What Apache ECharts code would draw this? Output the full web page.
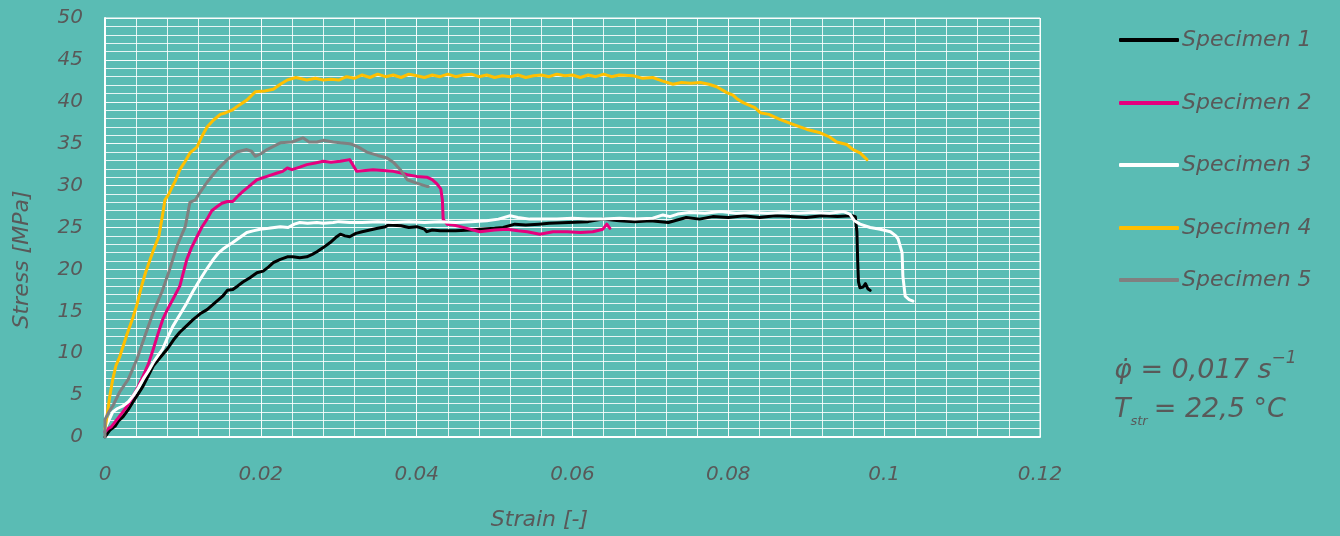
<!DOCTYPE html>
<html>
<head>
<meta charset="utf-8">
<script src="https://cdn.jsdelivr.net/npm/echarts@6/dist/echarts.min.js"></script>
<style>
html,body{margin:0;padding:0;background:#5abcb4;}
#chart{width:1340px;height:536px;}
</style>
</head>
<body>
<div id="chart"></div>
<script>
var seriesNames = ['Specimen 1','Specimen 2','Specimen 3','Specimen 4','Specimen 5'];
var xTicks = [0, 0.02, 0.04, 0.06, 0.08, 0.1, 0.12];
var yTicks = [0, 5, 10, 15, 20, 25, 30, 35, 40, 45, 50];

var spec1 = [[0,0],[0.0006,0.8],[0.0013,1.3],[0.0018,2.0],[0.0023,2.4],[0.003,3.3],[0.0036,4.2],[0.0043,5.2],[0.0049,6.1],[0.0056,7.4],[0.0062,8.5],[0.007,9.4],[0.008,10.5],[0.0088,11.6],[0.0096,12.5],[0.0105,13.3],[0.0113,14.0],[0.0122,14.7],[0.0131,15.2],[0.0141,16.0],[0.0151,16.8],[0.0157,17.5],[0.0164,17.6],[0.017,18.0],[0.0177,18.5],[0.0186,19.0],[0.0195,19.6],[0.0203,19.8],[0.021,20.3],[0.0216,20.8],[0.0225,21.2],[0.0234,21.5],[0.0241,21.5],[0.025,21.4],[0.0259,21.5],[0.0266,21.8],[0.0272,22.1],[0.028,22.6],[0.0289,23.2],[0.0296,23.8],[0.0302,24.2],[0.0308,24.0],[0.0314,23.9],[0.0322,24.3],[0.033,24.5],[0.034,24.7],[0.035,24.9],[0.036,25.1],[0.0364,25.3],[0.038,25.2],[0.039,25.0],[0.040,25.1],[0.041,24.8],[0.0413,24.5],[0.042,24.7],[0.043,24.6],[0.045,24.6],[0.047,24.7],[0.0481,24.8],[0.050,24.9],[0.0511,25.0],[0.0526,25.4],[0.054,25.3],[0.0557,25.4],[0.057,25.5],[0.0595,25.6],[0.062,25.7],[0.0639,26.0],[0.066,25.8],[0.068,25.7],[0.070,25.8],[0.0723,25.6],[0.0746,26.2],[0.0763,26.0],[0.078,26.3],[0.080,26.2],[0.082,26.4],[0.084,26.2],[0.086,26.4],[0.088,26.3],[0.090,26.2],[0.092,26.4],[0.094,26.3],[0.0959,26.4],[0.0963,26.3],[0.0965,24.5],[0.0966,21],[0.0967,18.5],[0.0969,17.8],[0.0973,17.9],[0.0976,18.3],[0.0979,17.7],[0.0982,17.5]];

var spec2 = [[0,0.6],[0.0004,1.0],[0.0008,1.2],[0.0013,1.8],[0.0018,2.4],[0.0023,3.0],[0.003,3.9],[0.0036,4.9],[0.0043,6.1],[0.0049,7.3],[0.0056,8.8],[0.0062,10.5],[0.0068,12.3],[0.0074,14.0],[0.008,15.2],[0.0087,16.4],[0.0096,18.0],[0.0105,21.2],[0.0111,22.6],[0.0118,23.9],[0.0124,25.0],[0.0131,26.0],[0.0137,27.0],[0.0144,27.5],[0.015,27.9],[0.0157,28.1],[0.0164,28.1],[0.017,28.7],[0.0177,29.3],[0.0186,30.0],[0.0195,30.7],[0.0208,31.1],[0.0221,31.5],[0.0228,31.7],[0.0234,32.1],[0.024,31.9],[0.025,32.2],[0.0259,32.5],[0.027,32.7],[0.028,32.9],[0.029,32.8],[0.0302,32.9],[0.0314,33.1],[0.0318,32.5],[0.0323,31.7],[0.0334,31.8],[0.0344,31.9],[0.0357,31.8],[0.037,31.7],[0.038,31.5],[0.0388,31.3],[0.040,31.1],[0.0413,31.0],[0.042,30.7],[0.0426,30.2],[0.0431,29.6],[0.0433,28.3],[0.0434,26.0],[0.0439,25.4],[0.0447,25.3],[0.0456,25.1],[0.0468,24.8],[0.0481,24.5],[0.050,24.7],[0.0516,24.8],[0.053,24.6],[0.0542,24.5],[0.0558,24.2],[0.0575,24.5],[0.0593,24.5],[0.061,24.4],[0.0626,24.5],[0.0639,24.8],[0.0644,25.4],[0.0648,24.9]];

var spec3 = [[0,1.0],[0.0004,1.8],[0.001,3.0],[0.0016,3.4],[0.0023,3.7],[0.003,4.2],[0.0036,4.9],[0.0043,5.9],[0.0049,6.9],[0.0056,7.9],[0.0062,8.9],[0.0068,9.7],[0.0074,10.5],[0.008,11.8],[0.0087,13.2],[0.0096,14.6],[0.0105,16.0],[0.0113,17.4],[0.0122,18.8],[0.0131,20.1],[0.0139,21.2],[0.0145,21.9],[0.0151,22.4],[0.0157,22.8],[0.0164,23.2],[0.0173,23.8],[0.0182,24.4],[0.019,24.6],[0.0199,24.8],[0.021,24.9],[0.0225,25.1],[0.0235,25.0],[0.0243,25.4],[0.025,25.6],[0.026,25.5],[0.0272,25.6],[0.028,25.5],[0.0293,25.6],[0.030,25.7],[0.0314,25.6],[0.033,25.6],[0.035,25.7],[0.037,25.6],[0.039,25.7],[0.041,25.6],[0.043,25.7],[0.045,25.6],[0.047,25.7],[0.049,25.8],[0.0505,26.0],[0.052,26.4],[0.053,26.2],[0.0545,26.0],[0.056,26.0],[0.058,26.0],[0.060,26.1],[0.062,26.0],[0.064,26.0],[0.066,26.1],[0.068,26.0],[0.0703,26.1],[0.0716,26.5],[0.0725,26.3],[0.0735,26.6],[0.075,26.8],[0.077,26.7],[0.079,26.9],[0.081,26.7],[0.083,26.8],[0.085,26.7],[0.087,26.8],[0.089,26.7],[0.091,26.8],[0.093,26.7],[0.0948,26.9],[0.0956,26.6],[0.0962,25.8],[0.0969,25.4],[0.0982,25.0],[0.0995,24.8],[0.1008,24.5],[0.1015,24.0],[0.1018,23.6],[0.1023,22.0],[0.1024,19.2],[0.1027,16.8],[0.1032,16.4],[0.1037,16.2]];

var spec4 = [[0,1.0],[0.0002,2.1],[0.0006,4.8],[0.001,6.9],[0.0014,8.5],[0.0019,9.6],[0.0028,12.2],[0.0036,14.3],[0.0041,15.8],[0.0047,18.0],[0.0052,19.6],[0.0058,21.2],[0.0063,22.5],[0.0069,23.9],[0.0073,26.0],[0.0077,28.3],[0.0082,29.0],[0.0086,29.8],[0.009,30.5],[0.0096,31.9],[0.0103,32.9],[0.0109,33.9],[0.0118,34.6],[0.0124,35.8],[0.0131,37.0],[0.0139,37.8],[0.0148,38.5],[0.0155,38.7],[0.0163,39.0],[0.0172,39.6],[0.0182,40.2],[0.0193,41.2],[0.0205,41.3],[0.0216,41.5],[0.0225,42.1],[0.0234,42.6],[0.0245,42.9],[0.0259,42.6],[0.027,42.8],[0.028,42.6],[0.029,42.7],[0.030,42.6],[0.031,43.0],[0.032,42.8],[0.033,43.2],[0.034,42.9],[0.035,43.3],[0.036,43.0],[0.037,43.2],[0.038,42.9],[0.039,43.3],[0.040,43.1],[0.041,42.9],[0.042,43.2],[0.043,43.0],[0.044,43.3],[0.045,43.0],[0.046,43.2],[0.047,43.3],[0.048,43.0],[0.049,43.2],[0.050,42.9],[0.051,43.1],[0.052,43.0],[0.053,43.2],[0.054,42.9],[0.055,43.1],[0.056,43.2],[0.057,43.0],[0.058,43.3],[0.059,43.1],[0.060,43.2],[0.061,42.9],[0.062,43.2],[0.063,43.0],[0.064,43.3],[0.065,43.0],[0.066,43.2],[0.0678,43.1],[0.069,42.8],[0.0703,42.9],[0.0715,42.5],[0.0729,42.1],[0.074,42.3],[0.0752,42.2],[0.0764,42.3],[0.0775,42.1],[0.0785,41.8],[0.0798,41.1],[0.0806,40.8],[0.0812,40.3],[0.0819,39.9],[0.0834,39.3],[0.0841,38.7],[0.0852,38.5],[0.0866,37.9],[0.0883,37.3],[0.0901,36.7],[0.0918,36.3],[0.093,35.8],[0.0939,35.2],[0.0952,34.9],[0.096,34.3],[0.0969,33.9],[0.0978,33.1]];

var spec5 = [[0,0],[0,2.1],[0.0005,3.0],[0.001,3.7],[0.0019,5.4],[0.003,6.9],[0.0041,9.3],[0.0051,12.0],[0.0062,14.9],[0.0073,17.3],[0.0083,20.0],[0.0092,22.7],[0.0103,25.1],[0.0109,28.0],[0.0116,28.3],[0.0122,29.2],[0.0131,30.4],[0.0144,31.9],[0.0157,33.1],[0.0169,34.0],[0.0182,34.3],[0.0188,34.1],[0.0193,33.5],[0.020,33.8],[0.0208,34.3],[0.0225,35.1],[0.024,35.2],[0.0254,35.7],[0.0262,35.2],[0.0272,35.2],[0.028,35.4],[0.0293,35.2],[0.0302,35.1],[0.0314,35.0],[0.0318,34.9],[0.0327,34.5],[0.0336,34.0],[0.035,33.6],[0.0362,33.3],[0.037,32.8],[0.0379,31.9],[0.0388,30.7],[0.040,30.3],[0.0413,29.9],[0.0415,29.9]];

var allData = [spec1, spec2, spec3, spec4, spec5];
var colors = ['#000000', '#e6007e', '#ffffff', '#ffbf00', '#808080'];
var legendTops = [29, 92, 154, 217, 269];

var textColor = '#595959';
var fontFam = "'DejaVu Sans', sans-serif";

var chart = echarts.init(document.getElementById('chart'), null, {renderer: 'canvas'});

var series = allData.map(function (d, i) {
  return {
    name: seriesNames[i],
    type: 'line',
    data: d,
    symbol: 'none',
    showSymbol: false,
    smooth: false,
    lineStyle: {color: colors[i], width: 3, cap: 'round', join: 'round'},
    itemStyle: {color: colors[i]},
    z: 2 + i
  };
});

var legends = seriesNames.map(function (n, i) {
  return {
    data: [{name: n, icon: 'roundRect'}],
    left: 1119,
    top: legendTops[i],
    orient: 'vertical',
    itemWidth: 60,
    itemHeight: 4,
    itemGap: 0,
    padding: 0,
    selectedMode: false,
    textStyle: {color: textColor, fontSize: 22, fontStyle: 'italic', fontFamily: fontFam, padding: [0, 0, 0, -2]}
  };
});

chart.setOption({
  backgroundColor: '#5abcb4',
  animation: false,
  grid: {left: 105, right: 300, top: 18, bottom: 98, show: true, borderColor: '#ffffff', borderWidth: 1, backgroundColor: 'transparent'},
  legend: legends,
  xAxis: {
    type: 'value',
    min: xTicks[0],
    max: xTicks[xTicks.length - 1],
    interval: 0.02,
    name: 'Strain [-]',
    nameLocation: 'middle',
    nameGap: 72,
    nameTextStyle: {color: textColor, fontSize: 22, fontStyle: 'italic', fontFamily: fontFam, padding: [0, 66, 0, 0]},
    axisLine: {show: true, lineStyle: {color: '#ffffff', width: 2}},
    axisTick: {show: false},
    axisLabel: {
      color: textColor, fontSize: 20, fontStyle: 'italic', fontFamily: fontFam, margin: 28,
      formatter: function (v) { return v === 0 ? '0' : String(+v.toFixed(2)); }
    },
    splitLine: {show: true, lineStyle: {color: 'rgba(255,255,255,0.95)', width: 1}},
    minorTick: {show: false, splitNumber: 5},
    minorSplitLine: {show: true, lineStyle: {color: 'rgba(255,255,255,0.85)', width: 1}}
  },
  yAxis: {
    type: 'value',
    min: yTicks[0],
    max: yTicks[yTicks.length - 1],
    interval: 5,
    name: 'Stress [MPa]',
    nameLocation: 'middle',
    nameGap: 72,
    nameRotate: 90,
    nameTextStyle: {color: textColor, fontSize: 22, fontStyle: 'italic', fontFamily: fontFam, padding: [0, 64, 0, 0]},
    axisLine: {show: true, lineStyle: {color: '#ffffff', width: 2}},
    axisTick: {show: false},
    axisLabel: {color: textColor, fontSize: 20, fontStyle: 'italic', fontFamily: fontFam, margin: 22},
    splitLine: {show: true, lineStyle: {color: 'rgba(255,255,255,0.95)', width: 1}},
    minorTick: {show: false, splitNumber: 5},
    minorSplitLine: {show: true, lineStyle: {color: 'rgba(255,255,255,0.85)', width: 1}}
  },
  graphic: [
    {
      type: 'text', left: 1114, top: 350,
      style: {
        text: '{a|φ̇ = 0,017 s}{sup|−1}',
        rich: {
          a: {fontSize: 27, fontStyle: 'italic', fontFamily: fontFam, fill: textColor, lineHeight: 34, verticalAlign: 'bottom'},
          sup: {fontSize: 17, fontStyle: 'italic', fontFamily: fontFam, fill: textColor, lineHeight: 34, verticalAlign: 'top'}
        }
      }
    },
    {
      type: 'text', left: 1114, top: 396,
      style: {
        text: '{a|T}{sub|str}{b|= 22,5 °C}',
        rich: {
          a: {fontSize: 27, fontStyle: 'italic', fontFamily: fontFam, fill: textColor, lineHeight: 32, verticalAlign: 'top'},
          sub: {fontSize: 13, fontStyle: 'italic', fontFamily: fontFam, fill: textColor, lineHeight: 32, verticalAlign: 'bottom', padding: [0, 6, 0, 0]},
          b: {fontSize: 27, fontStyle: 'italic', fontFamily: fontFam, fill: textColor, lineHeight: 32, verticalAlign: 'top'}
        }
      }
    }
  ],
  series: series
});
</script>
</body>
</html>
